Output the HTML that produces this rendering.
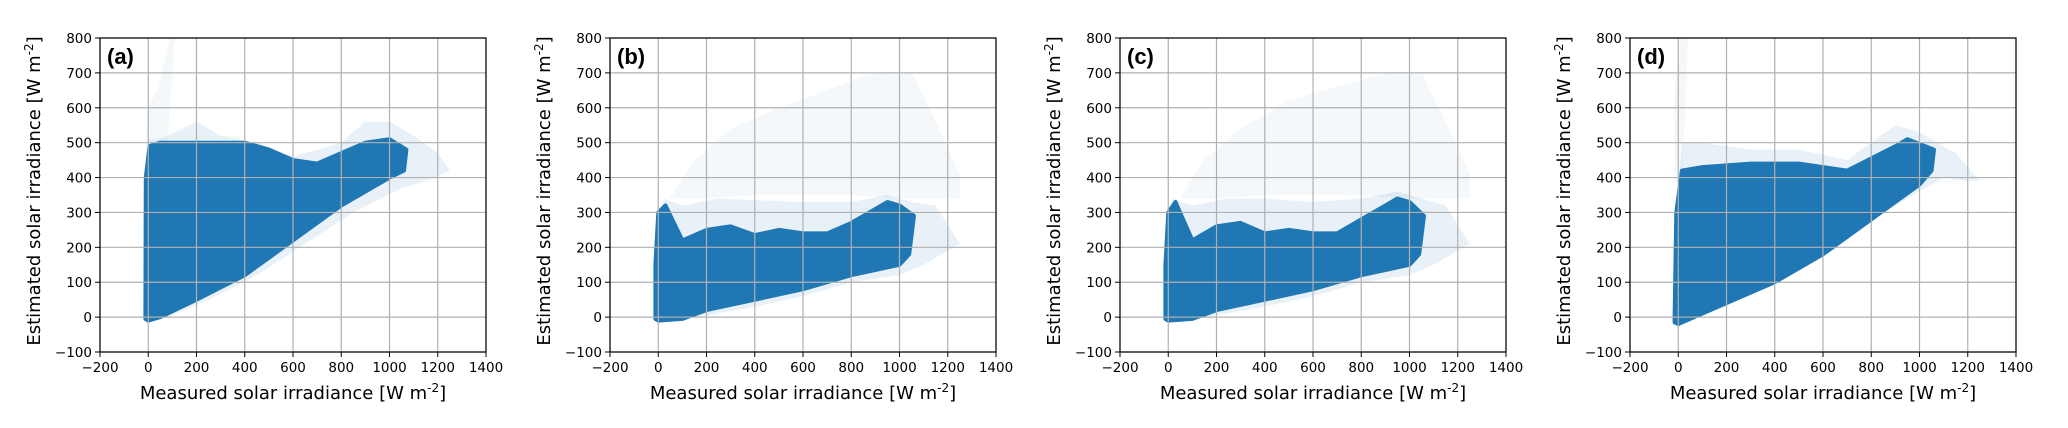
<!DOCTYPE html>
<html><head><meta charset="utf-8"><style>
html,body{margin:0;padding:0;background:#fff;}
svg{display:block;font-family:"DejaVu Sans","Liberation Sans",sans-serif;}
</style></head><body>
<svg id="chart" width="2068" height="428" viewBox="0 0 2068 428" xmlns="http://www.w3.org/2000/svg"></svg>
<script>
// ---- data ----
const panelLabels = ["(a)", "(b)", "(c)", "(d)"];
const xTicks = [-200, 0, 200, 400, 600, 800, 1000, 1200, 1400];
const yTicks = [-100, 0, 100, 200, 300, 400, 500, 600, 700, 800];
const xTickLabels = ["\u2212200","0","200","400","600","800","1000","1200","1400"];
const yTickLabels = ["\u2212100","0","100","200","300","400","500","600","700","800"];

// dense core outlines: measured (x) and estimated (y)
const coreAX = [-12,0,50,200,400,600,800,1000,1060,1070,1000,900,800,700,600,500,400,300,200,50,5,-10,-12];
const coreAY = [-5,-10,0,50,120,220,320,400,420,480,510,500,470,440,450,480,500,500,500,500,490,400,0];
const haloAX = [-20,0,80,250,450,650,850,1050,1150,1250,1200,1100,1000,900,800,600,450,300,200,50,0,-20];
const haloAY = [-10,-15,0,50,120,210,300,370,390,420,470,520,560,560,500,460,500,520,560,510,510,300];
const plumeAX = [-10,20,80,110,90,40,-5];
const plumeAY = [480,480,500,800,800,650,600];

const coreBX = [-12,0,100,200,400,600,800,1000,1040,1060,1000,950,900,800,700,600,500,400,300,200,100,30,0,-12];
const coreBY = [-5,-10,-5,20,50,80,120,150,180,290,320,330,310,270,240,240,250,235,260,250,220,320,300,150];
const haloBX = [-15,0,200,400,600,800,1000,1100,1200,1250,1150,1050,950,800,600,400,250,100,20,-10];
const haloBY = [-10,-15,5,30,60,100,120,150,190,210,320,330,350,330,330,335,340,320,340,250];
const cloudBX = [50,150,300,500,700,850,950,1050,1150,1250,1250,1000,800,600,400,200,100];
const cloudBY = [340,450,540,600,650,690,705,700,560,410,340,340,350,350,350,340,340];

const coreCX = [-12,0,100,200,400,600,800,1000,1040,1060,1000,950,900,800,700,600,500,400,300,200,100,30,0,-12];
const coreCY = [-5,-10,-5,20,50,80,120,150,180,290,330,340,320,280,240,240,250,240,270,260,220,330,300,150];
const haloCX = [-15,0,200,400,600,800,1000,1100,1200,1250,1150,1050,950,800,600,400,250,100,20,-10];
const haloCY = [-10,-15,5,30,60,100,120,150,190,210,320,340,360,340,330,340,340,320,340,250];
const cloudCX = [50,150,300,500,700,850,950,1050,1150,1250,1250,1000,800,600,400,200,100];
const cloudCY = [340,450,540,620,660,690,705,700,560,410,340,340,350,350,350,340,340];

const coreDX = [-15,0,100,400,600,800,1000,1050,1060,950,900,700,500,300,100,15,-8,-15];
const coreDY = [-15,-20,10,100,180,280,380,420,480,510,490,420,440,440,430,420,300,0];
const haloDX = [-20,0,200,400,600,800,1000,1100,1200,1250,1150,1000,900,700,500,300,100,20,-15];
const haloDY = [-20,-25,40,110,190,280,360,400,390,390,470,530,550,450,480,480,500,500,300];
const plumeDX = [-15,15,30,40,5,-20];
const plumeDY = [400,420,600,800,800,600];

const cores = [[coreAX,coreAY],[coreBX,coreBY],[coreCX,coreCY],[coreDX,coreDY]];
const halos = [[haloAX,haloAY],[haloBX,haloBY],[haloCX,haloCY],[haloDX,haloDY]];
const clouds = [[plumeAX,plumeAY],[cloudBX,cloudBY],[cloudCX,cloudCY],[plumeDX,plumeDY]];

// ---- layout ----
const svg = document.getElementById('chart');
const NS = 'http://www.w3.org/2000/svg';
const panelLeft = [100, 610, 1120, 1630];
const PW = 386, TOP = 38, BOT = 352;
function mk(tag, attrs, parent){const e=document.createElementNS(NS,tag);for(const k in attrs)e.setAttribute(k,attrs[k]);(parent||svg).appendChild(e);return e;}

panelLabels.forEach((lab, p) => {
  const L = panelLeft[p];
  const sx = v => L + (v + 200) / 1600 * PW;
  const sy = v => BOT - (v + 100) / 900 * (BOT - TOP);
  const g = mk('g', {});
  
  
  const clipId = 'clip' + p;
  const cp = mk('clipPath', {id: clipId}, g);
  mk('rect', {x: L, y: TOP, width: PW, height: BOT - TOP}, cp);
  const data = mk('g', {'clip-path': 'url(#' + clipId + ')'}, g);
  
  
  const poly = (xs, ys, op, sw, name) => {
    const pts = xs.map((x, i) => sx(x).toFixed(1) + ',' + sy(ys[i]).toFixed(1)).join(' ');
    const e = mk('polygon', {points: pts, fill: '#1f77b4', 'fill-opacity': op, stroke: sw ? '#1f77b4' : 'none', 'stroke-width': sw, 'stroke-linejoin': 'round'}, data);
    
    
  };
  poly(clouds[p][0], clouds[p][1], 0.05, 0, 'sparse-cloud');
  poly(halos[p][0], halos[p][1], 0.1, 0, 'halo-points');
  poly(cores[p][0], cores[p][1], 1, 4, 'dense-points');
  // grid
  xTicks.forEach((t, i) => {
    const x = sx(t);
    const gl = mk('line', {x1: x, x2: x, y1: TOP, y2: BOT, stroke: '#b0b0b0', 'stroke-width': 1.2}, g);
    
    
    mk('line', {x1: x, x2: x, y1: BOT, y2: BOT + 5, stroke: '#000', 'stroke-width': 1}, g);
    const tx = mk('text', {x: x, y: BOT + 20, 'font-size': 13.5, 'text-anchor': 'middle', fill: '#000'}, g);
    tx.textContent = xTickLabels[i];
    
    
  });
  yTicks.forEach((t, i) => {
    const y = sy(t);
    const gl = mk('line', {x1: L, x2: L + PW, y1: y, y2: y, stroke: '#b0b0b0', 'stroke-width': 1.2}, g);
    
    
    mk('line', {x1: L - 5, x2: L, y1: y, y2: y, stroke: '#000', 'stroke-width': 1}, g);
    const ty = mk('text', {x: L - 8, y: y + 5, 'font-size': 13.5, 'text-anchor': 'end', fill: '#000'}, g);
    ty.textContent = yTickLabels[i];
    
    
  });
  const fr = mk('rect', {x: L, y: TOP, width: PW, height: BOT - TOP, fill: 'none', stroke: '#000', 'stroke-width': 1.2}, g);
  
  
  const pl = mk('text', {x: L + 7, y: TOP + 26, 'font-size': 22, 'font-weight': 'bold', 'font-family': 'Liberation Sans, sans-serif', fill: '#000'}, g);
  pl.textContent = lab;
  
  
  const xl = mk('text', {x: L + PW / 2, y: BOT + 47, 'font-size': 18, 'text-anchor': 'middle', fill: '#000'}, g);
  xl.innerHTML = 'Measured solar irradiance [W m<tspan dy="-7" font-size="12">-2</tspan><tspan dy="7">]</tspan>';
  
  
  const cy = (TOP + BOT) / 2 - 4;
  const yl = mk('text', {x: 0, y: 0, 'font-size': 18, 'text-anchor': 'middle', fill: '#000', transform: 'translate(' + (L - 60) + ',' + cy + ') rotate(-90)'}, g);
  yl.innerHTML = 'Estimated solar irradiance [W m<tspan dy="-7" font-size="12">-2</tspan><tspan dy="7">]</tspan>';
  
  
});
</script>
</body></html>
